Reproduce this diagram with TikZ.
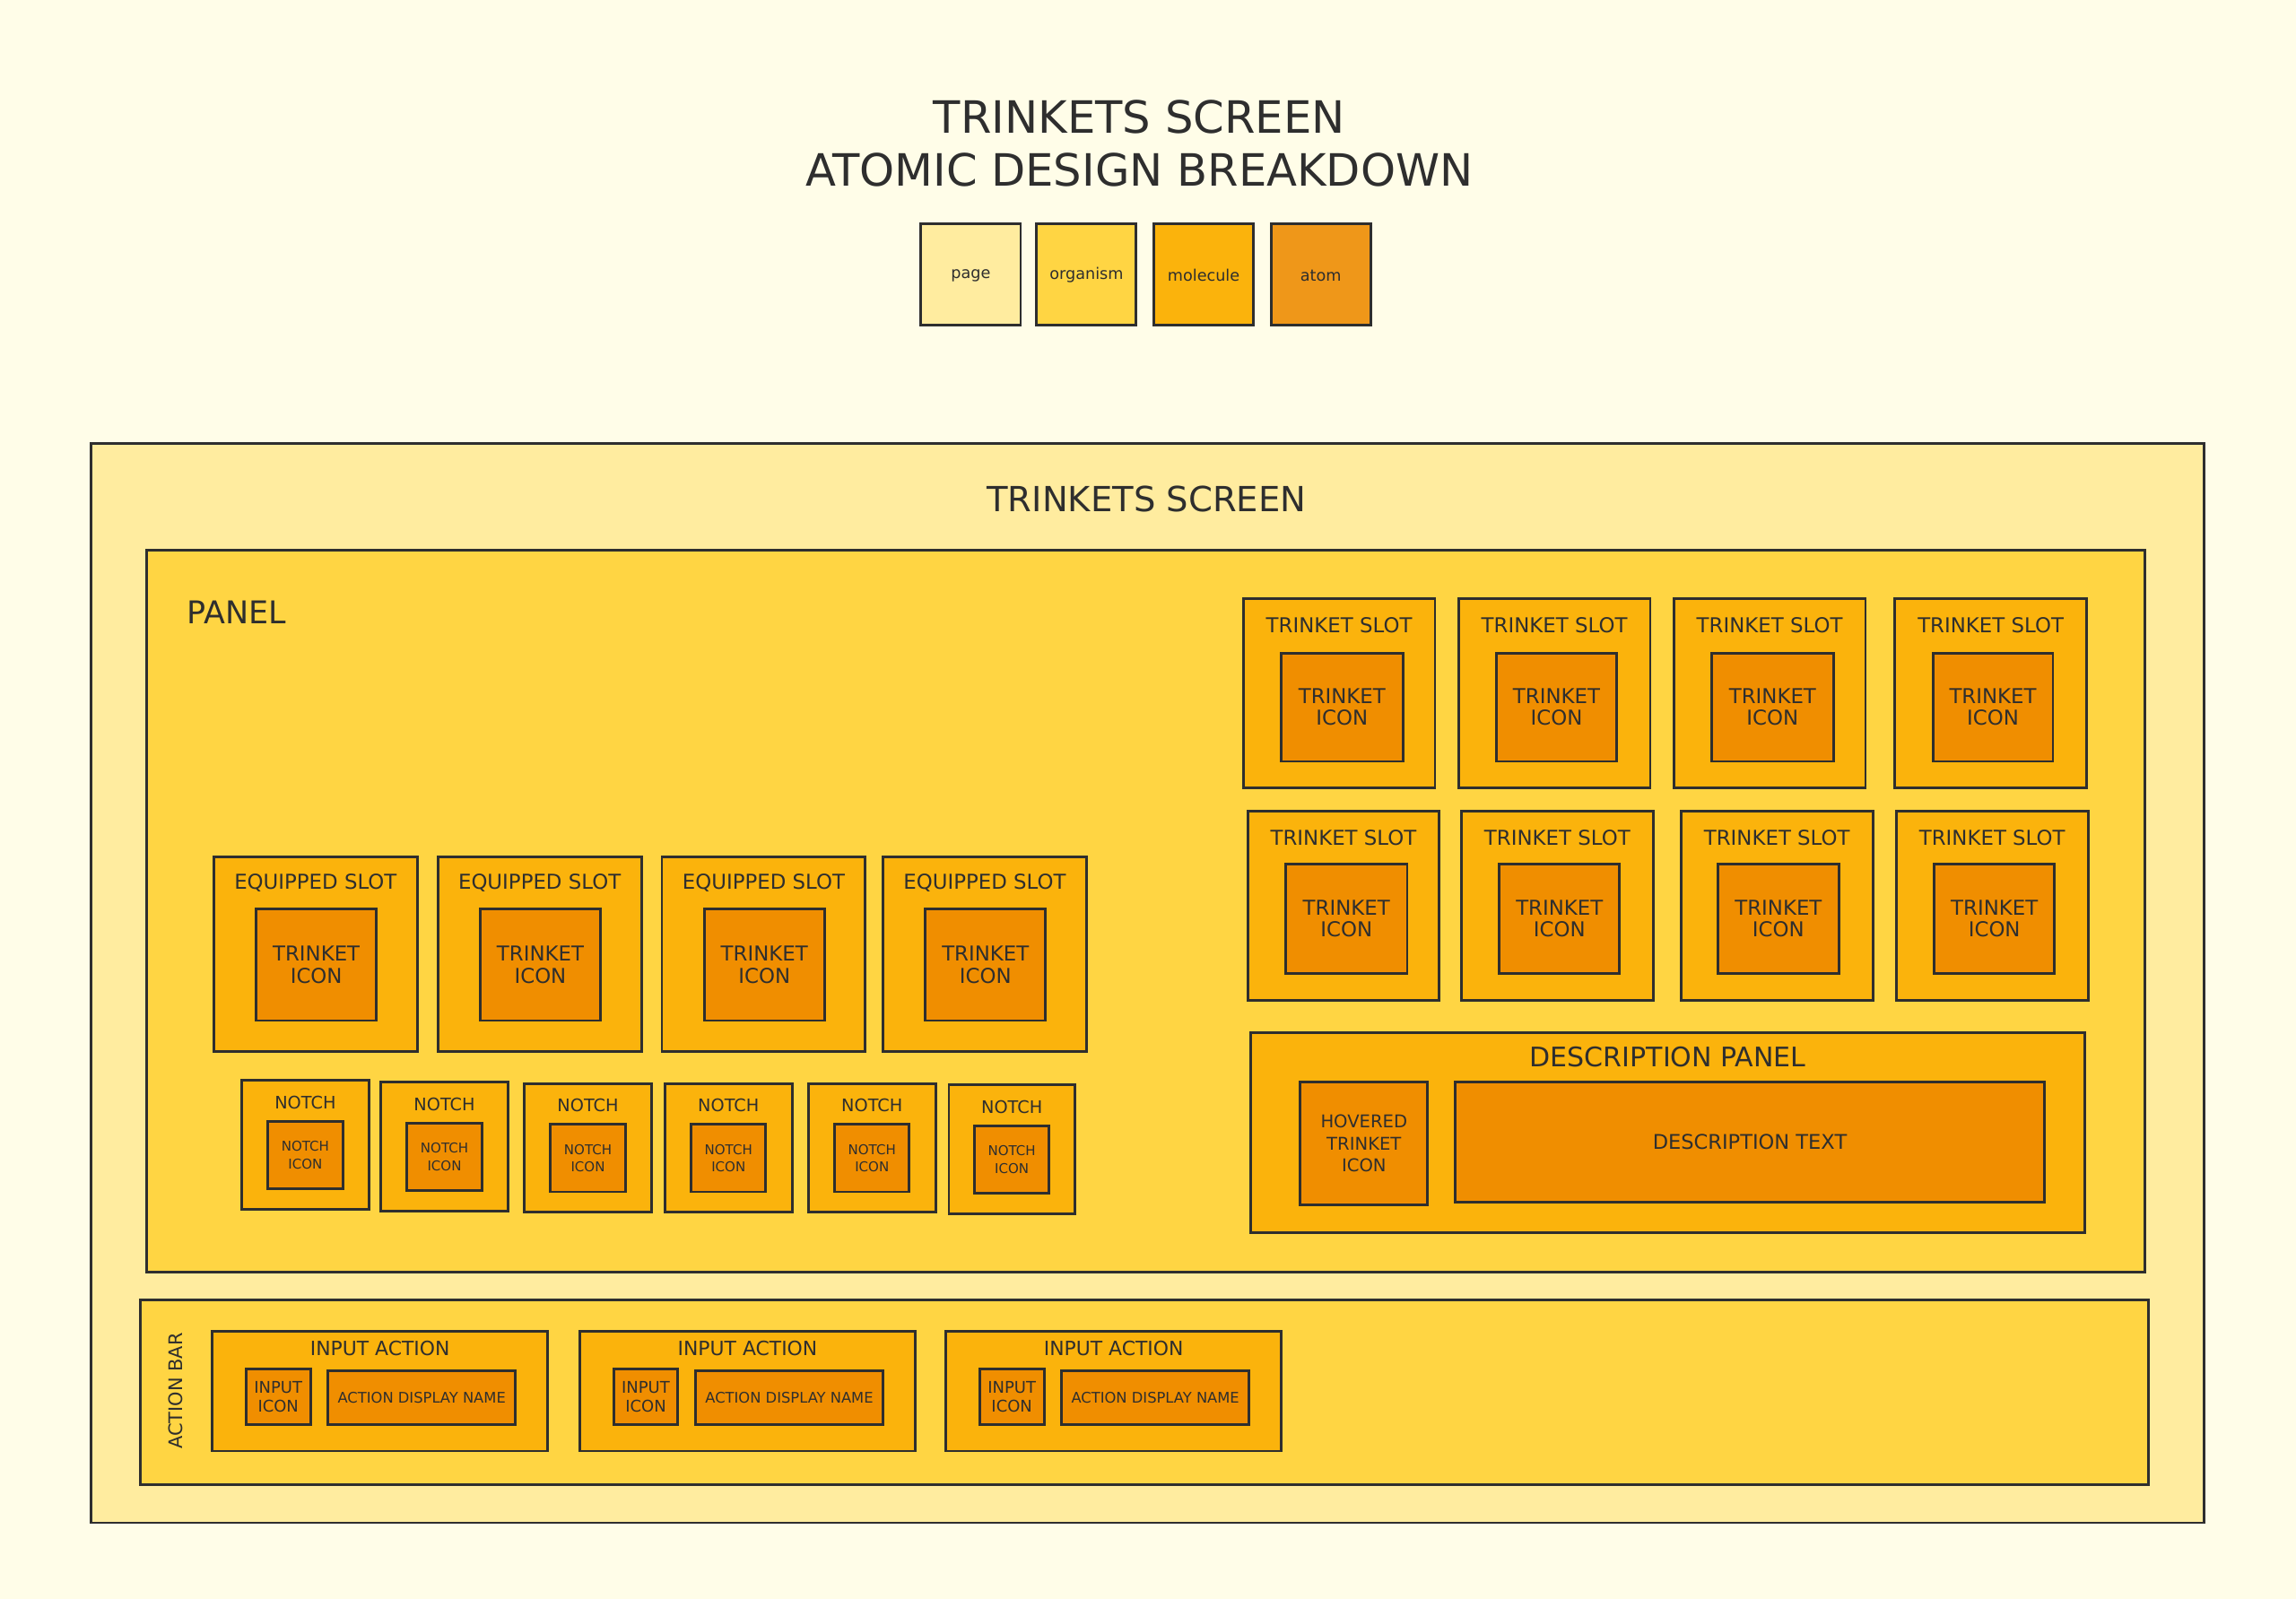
\documentclass[tikz,border=0pt]{standalone}
\usepackage{fontspec}
\setmainfont{DejaVu Sans}
\definecolor{bgc}{HTML}{FFFDE8}
\definecolor{pagec}{HTML}{FFEC9F}
\definecolor{orgc}{HTML}{FFD543}
\definecolor{molc}{HTML}{FBB30C}
\definecolor{atomc}{HTML}{F08E00}
\definecolor{lgatomc}{HTML}{EF9719}
\definecolor{inkc}{HTML}{2E2E2E}
\newcommand{\fsz}[2]{\fontsize{#1}{#2}\selectfont}
% #1 style, #2 name, #3 x1, #4 y1, #5 x2, #6 y2, #7 text
\newcommand{\boxat}[7]{%
  \pgfmathsetmacro\bxw{((#5)-(#3))*0.5}%
  \pgfmathsetmacro\bxh{((#6)-(#4))*0.5}%
  \pgfmathsetmacro\bxcx{((#3)+(#5))/2}%
  \pgfmathsetmacro\bxcy{((#4)+(#6))/2}%
  \node[#1, minimum width=\bxw pt, minimum height=\bxh pt] (#2) at (\bxcx,\bxcy) {#7};}
\begin{document}
\begin{tikzpicture}[x=0.5pt,y=-0.5pt,
  every node/.style={inner sep=0pt, outer sep=0pt, text=inkc, align=center},
  bx/.style={draw=inkc, line width=0.9pt, rectangle},
  pagebox/.style={bx, fill=pagec},
  orgbox/.style={bx, fill=orgc},
  molbox/.style={bx, fill=molc},
  atombox/.style={bx, fill=atomc},
  lgatombox/.style={bx, fill=lgatomc},
  lgtxt/.style={font=\fsz{5.4}{6}},
  slottxt/.style={font=\fsz{7}{7.5}},
  notchtxt/.style={font=\fsz{5.9}{6.5}},
  notchicontxt/.style={font=\fsz{4.6}{6}},
  inputtxt/.style={font=\fsz{6.7}{7}},
  inputicontxt/.style={font=\fsz{5.5}{6.5}},
  actnametxt/.style={font=\fsz{5.0}{6}}]
\useasboundingbox[fill=bgc] (0,0) rectangle (1568,1092);

% title
\node[font=\fsz{15.2}{18}] (title) at (778,98) {TRINKETS SCREEN\\ATOMIC DESIGN BREAKDOWN};

% legend
\boxat{pagebox}{lgpage}{629}{153}{697}{222}{}
\boxat{orgbox}{lgorg}{708}{153}{776}{222}{}
\boxat{molbox}{lgmol}{788}{153}{856}{222}{}
\boxat{lgatombox}{lgatom}{868}{153}{936}{222}{}
\node[lgtxt] (lgpaget) at (663,188) {page};
\node[lgtxt] (lgorgt) at (742,188) {organism};
\node[lgtxt] (lgmolt) at (822,188) {molecule};
\node[lgtxt] (lgatomt) at (902,188) {atom};

% page
\boxat{pagebox}{page}{62}{303}{1505}{1040}{}
\node[font=\fsz{11.8}{13}] (pagelbl) at (783,341) {TRINKETS SCREEN};

% panel
\boxat{orgbox}{panel}{100}{376}{1465}{869}{}
\node[font=\fsz{10.7}{12}, anchor=west] (panellbl) at (128,418) {PANEL};

% trinket slots row 1
\foreach \i/\xa/\xb/\ia/\ib in {1/849/980/875/958, 2/996/1127/1022/1104, 3/1143/1274/1169/1252, 4/1294/1425/1320/1402}{
  \boxat{molbox}{tsa\i}{\xa}{409}{\xb}{538}{}
  \node[slottxt] (tsalbl\i) at ({(\xa+\xb)/2},427) {TRINKET SLOT};
  \boxat{atombox,slottxt}{tia\i}{\ia}{446}{\ib}{520}{TRINKET\\ICON}
}
% trinket slots row 2
\foreach \i/\xa/\xb/\ia/\ib in {1/852/983/878/961, 2/998/1129/1024/1106, 3/1148/1279/1173/1256, 4/1295/1426/1321/1403}{
  \boxat{molbox}{tsb\i}{\xa}{554}{\xb}{683}{}
  \node[slottxt] (tsblbl\i) at ({(\xa+\xb)/2},572) {TRINKET SLOT};
  \boxat{atombox,slottxt}{tib\i}{\ia}{590}{\ib}{665}{TRINKET\\ICON}
}

% description panel
\boxat{molbox}{descpanel}{854}{705}{1424}{842}{}
\node[font=\fsz{9.2}{10}] (descpanellbl) at (1139,722) {DESCRIPTION PANEL};
\boxat{atombox,font=\fsz{6}{7.5}}{hovered}{888}{739}{975}{823}{HOVERED\\TRINKET\\ICON}
\boxat{atombox,font=\fsz{6.9}{8}}{desctext}{994}{739}{1396}{821}{DESCRIPTION TEXT}

% equipped slots
\foreach \i/\xa/\xb/\ia/\ib in {1/146/285/175/257, 2/299/438/328/410, 3/452/591/481/563, 4/603/742/632/714}{
  \boxat{molbox}{es\i}{\xa}{585}{\xb}{718}{}
  \node[slottxt] (eslbl\i) at ({(\xa+\xb)/2},603) {EQUIPPED SLOT};
  \boxat{atombox,slottxt}{ei\i}{\ia}{621}{\ib}{697}{TRINKET\\ICON}
}

% notches
\foreach \i/\xa/\xb/\dy in {1/165/252/0, 2/260/347/1, 3/358/445/2, 4/454/541/2, 5/552/639/2, 6/648/734/3}{
  \boxat{molbox}{no\i}{\xa}{738+\dy}{\xb}{826+\dy}{}
  \node[notchtxt] (nolbl\i) at ({(\xa+\xb)/2},{753+\dy}) {NOTCH};
  \boxat{atombox,notchicontxt}{ni\i}{(\xa+\xb)/2-25.5}{766+\dy}{(\xa+\xb)/2+25.5}{812+\dy}{NOTCH\\ICON}
}

% action bar
\boxat{orgbox}{actionbar}{96}{888}{1467}{1014}{}
\node[font=\fsz{6.4}{7}, rotate=90] (actionbarlbl) at (120,950) {ACTION BAR};
\foreach \i/\xa in {1/145, 2/396, 3/646}{
  \boxat{molbox}{ia\i}{\xa}{909}{\xa+229}{991}{}
  \node[inputtxt] (ialbl\i) at ({\xa+114.5},921) {INPUT ACTION};
  \boxat{atombox,inputicontxt}{ii\i}{\xa+23}{935}{\xa+67}{973}{INPUT\\ICON}
  \boxat{atombox,actnametxt}{an\i}{\xa+79}{936}{\xa+207}{973}{ACTION DISPLAY NAME}
}
\end{tikzpicture}
\end{document}
